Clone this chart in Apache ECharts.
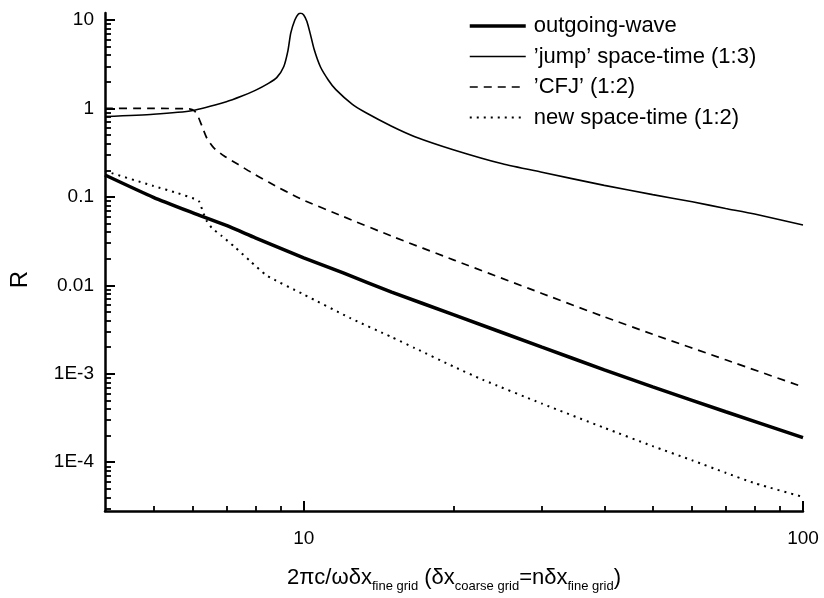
<!DOCTYPE html>
<html>
<head>
<meta charset="utf-8">
<script src="https://cdn.jsdelivr.net/npm/echarts@6/dist/echarts.min.js"></script>
<style>
html, body { margin: 0; padding: 0; background: #fff; }
#chart { width: 824px; height: 598px; }
</style>
</head>
<body>
<div id="chart"></div>
<script>
// values (x = 2πc/ωδx, R = reflection)
const outgoingX = [4, 5, 6, 7, 8, 10, 12, 15, 20, 30, 40, 50, 70, 100];
const outgoingR = [0.177, 0.099, 0.066, 0.0475, 0.0345, 0.0205, 0.0138, 0.0084, 0.00464, 0.0020, 0.00111, 0.000713, 0.000372, 0.00019];

const jumpX = [4, 5, 6, 7, 7.5, 8, 8.5, 8.83, 9.12, 9.3, 9.42, 9.6, 9.75, 9.86, 10.0, 10.15, 10.3, 10.5, 10.8, 11.2, 11.6, 12.5, 13.3, 15, 16.7, 20, 25, 30, 40, 50, 60, 70, 80, 100];
const jumpR = [0.81, 0.86, 0.95, 1.19, 1.37, 1.6, 1.92, 2.23, 2.96, 4.5, 7.1, 10, 11.6, 11.9, 11.4, 9.6, 7.1, 4.6, 2.96, 2.1, 1.63, 1.12, 0.9, 0.63, 0.48, 0.34, 0.237, 0.19, 0.135, 0.106, 0.088, 0.074, 0.064, 0.048];

const cfjX = [4, 5, 5.9, 6.05, 6.15, 6.25, 6.4, 6.6, 6.93, 7.4, 7.84, 8.5, 9.86, 12, 15, 20, 30, 40, 50, 70, 100];
const cfjR = [1.0, 1.0, 0.99, 0.93, 0.8, 0.64, 0.46, 0.36, 0.29, 0.232, 0.19, 0.147, 0.095, 0.060, 0.036, 0.0193, 0.0081, 0.0044, 0.0028, 0.00144, 0.00071];

const newX = [4, 5, 5.6, 6.04, 6.18, 6.28, 6.4, 6.56, 6.84, 7.26, 7.8, 8.44, 10, 12.4, 15, 16.7, 20, 22.8, 30, 40, 50, 60, 70, 80, 100];
const newR = [0.196, 0.133, 0.11, 0.095, 0.088, 0.068, 0.053, 0.044, 0.0365, 0.0274, 0.019, 0.0129, 0.0079, 0.00426, 0.0026, 0.00195, 0.0012, 0.00086, 0.00046, 0.000245, 0.000152, 0.000105, 0.000076, 0.000058, 0.0000405];

const seriesNames = ['outgoing-wave', '\u2019jump\u2019 space-time (1:3)', '\u2019CFJ\u2019 (1:2)', 'new space-time (1:2)'];

// ticks
const xMajorTicks = [10, 100];
const xMinorTicks = [5, 6, 7, 8, 9, 20, 30, 40, 50, 60, 70, 80, 90];
const yMajorTicks = [1e-4, 1e-3, 0.01, 0.1, 1, 10];
const yTickLabels = ['1E-4', '1E-3', '0.01', '0.1', '1', '10'];
const yMinorTicks = [3e-5, 4e-5, 5e-5, 6e-5, 7e-5, 8e-5, 9e-5,
  2e-4, 3e-4, 4e-4, 5e-4, 6e-4, 7e-4, 8e-4, 9e-4,
  2e-3, 3e-3, 4e-3, 5e-3, 6e-3, 7e-3, 8e-3, 9e-3,
  0.02, 0.03, 0.04, 0.05, 0.06, 0.07, 0.08, 0.09,
  0.2, 0.3, 0.4, 0.5, 0.6, 0.7, 0.8, 0.9,
  2, 3, 4, 5, 6, 7, 8, 9];

const xMin = 4, xMax = 100;
const yMin = 2.81e-5, yMax = 12;

const lg = Math.log10;
const FONT = 'Liberation Sans, Arial, Helvetica, sans-serif';

function pairs(xs, ys) {
  return xs.map((x, i) => [lg(x), lg(ys[i])]);
}

const chart = echarts.init(document.getElementById('chart'));

const axisBase = {
  type: 'value',
  splitLine: { show: false },
  axisLine: { onZero: false, lineStyle: { color: '#000', width: 2.5 } }
};

const option = {
  backgroundColor: '#fff',
  animation: false,
  grid: { left: 100, right: 21, top: 13, bottom: 84 },
  legend: {
    orient: 'vertical',
    left: 463,
    top: 10,
    itemWidth: 56,
    itemHeight: 20,
    itemGap: 8.5,
    data: seriesNames,
    itemStyle: { opacity: 0 },
    lineStyle: { width: 'inherit', type: 'inherit' },
    textStyle: { fontFamily: FONT, fontSize: 22, lineHeight: 20, color: '#000', padding: [0, 0, 0, 3] }
  },
  xAxis: [
    Object.assign({}, axisBase, {
      min: lg(xMin), max: lg(xMax),
      position: 'bottom',
      axisTick: { inside: true, length: 10, customValues: xMajorTicks.map(lg), lineStyle: { color: '#000', width: 2 } },
      axisLabel: {
        customValues: xMajorTicks.map(lg),
        formatter: v => String(Math.round(Math.pow(10, v))),
        fontFamily: FONT, fontSize: 19, color: '#000', margin: 18
      },
      name: '{m|2\u03c0c/\u03c9\u03b4x}{s|fine grid}{m| (\u03b4x}{s|coarse grid}{m|=n\u03b4x}{s|fine grid}{m|)}',
      nameLocation: 'middle',
      nameGap: 52,
      nameTextStyle: {
        rich: {
          m: { fontFamily: FONT, fontSize: 22, color: '#000', lineHeight: 30 },
          s: { fontFamily: FONT, fontSize: 13, color: '#000', lineHeight: 14, verticalAlign: 'bottom' }
        }
      }
    }),
    Object.assign({}, axisBase, {
      min: lg(xMin), max: lg(xMax),
      position: 'bottom',
      axisLine: { show: false, onZero: false },
      axisTick: { inside: true, length: 5, customValues: xMinorTicks.map(lg), lineStyle: { color: '#000', width: 1.8 } },
      axisLabel: { show: false }
    })
  ],
  yAxis: [
    Object.assign({}, axisBase, {
      min: lg(yMin), max: lg(yMax),
      position: 'left',
      axisTick: { inside: true, length: 10, customValues: yMajorTicks.map(lg), lineStyle: { color: '#000', width: 2 } },
      axisLabel: {
        customValues: yMajorTicks.map(lg),
        formatter: v => {
          const i = yMajorTicks.findIndex(t => Math.abs(lg(t) - v) < 1e-6);
          return i >= 0 ? yTickLabels[i] : '';
        },
        fontFamily: FONT, fontSize: 19, color: '#000', margin: 11
      },
      name: 'R',
      nameLocation: 'middle',
      nameRotate: 90,
      nameGap: 73,
      nameTextStyle: { fontFamily: FONT, fontSize: 24, color: '#000', padding: [0, 35, 0, 0] }
    }),
    Object.assign({}, axisBase, {
      min: lg(yMin), max: lg(yMax),
      position: 'left',
      axisLine: { show: false, onZero: false },
      axisTick: { inside: true, length: 6, customValues: yMinorTicks.map(lg), lineStyle: { color: '#000', width: 1.8 } },
      axisLabel: { show: false }
    })
  ],
  series: [
    {
      name: seriesNames[0], type: 'line', symbol: 'none', smooth: 0.2,
      lineStyle: { color: '#000', width: 3.5 },
      itemStyle: { color: '#000' },
      data: pairs(outgoingX, outgoingR)
    },
    {
      name: seriesNames[1], type: 'line', symbol: 'none', smooth: 0.2,
      lineStyle: { color: '#000', width: 1.6 },
      itemStyle: { color: '#000' },
      data: pairs(jumpX, jumpR)
    },
    {
      name: seriesNames[2], type: 'line', symbol: 'none', smooth: 0.2,
      lineStyle: { color: '#000', width: 1.7, type: [8, 6] },
      itemStyle: { color: '#000' },
      data: pairs(cfjX, cfjR)
    },
    {
      name: seriesNames[3], type: 'line', symbol: 'none', smooth: 0.2,
      lineStyle: { color: '#000', width: 2, type: [2, 5] },
      itemStyle: { color: '#000' },
      data: pairs(newX, newR)
    }
  ]
};

chart.setOption(option);
</script>
</body>
</html>
